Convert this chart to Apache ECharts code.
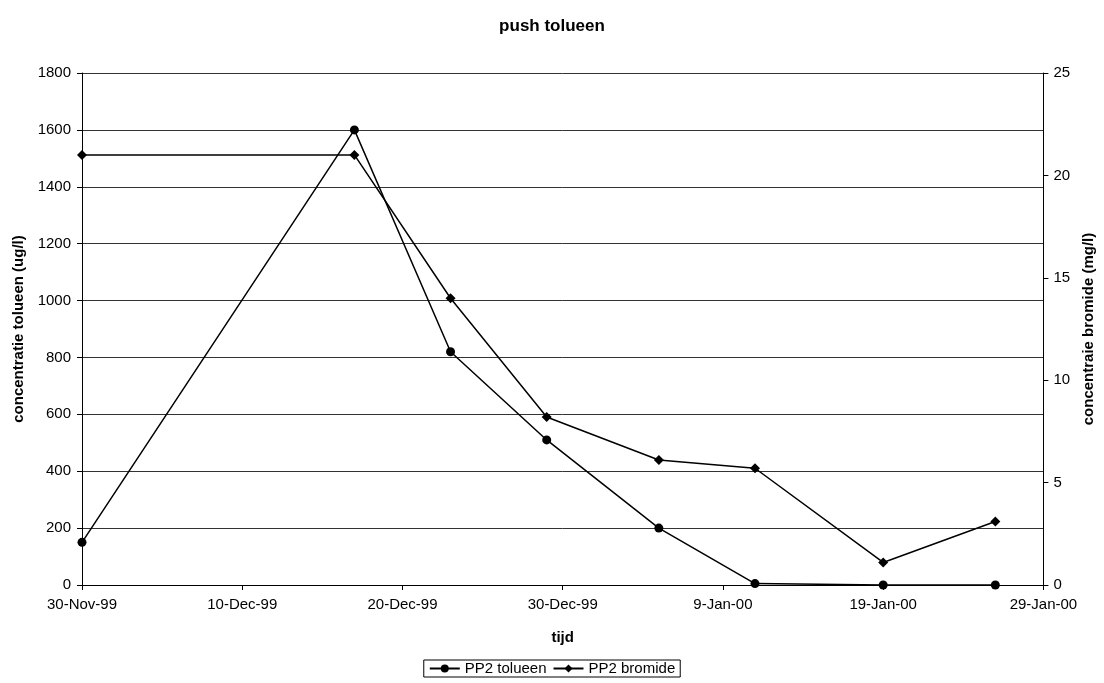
<!DOCTYPE html>
<html><head><meta charset="utf-8">
<script src="https://cdn.jsdelivr.net/npm/echarts@6/dist/echarts.min.js"></script>
<style>html,body{margin:0;padding:0;background:#fff}#c{width:1104px;height:683px}</style>
</head><body><div id="c"></div>
<script>
const dates = ['1999-11-30','1999-12-17','1999-12-23','1999-12-29','2000-01-05','2000-01-11','2000-01-19','2000-01-26'];
const toluene = [150, 1600, 820, 510, 200, 5, 0, 0];
const bromide = [21, 21, 14, 8.2, 6.1, 5.7, 1.1, 3.1];
const seriesNames = ['PP2 tolueen', 'PP2 bromide'];
const baseDate = '1999-11-30';
const months = ['Jan','Feb','Mar','Apr','May','Jun','Jul','Aug','Sep','Oct','Nov','Dec'];
const DAY = 86400000;
const base = Date.parse(baseDate + 'T00:00:00Z');
const dayOf = s => Math.round((Date.parse(s + 'T00:00:00Z') - base) / DAY);
const fmt = v => { const d = new Date(base + v * DAY); return d.getUTCDate() + '-' + months[d.getUTCMonth()] + '-' + String(d.getUTCFullYear()).slice(2); };
const font = 'Liberation Sans, Arial, sans-serif';
const chart = echarts.init(document.getElementById('c'), null, {renderer: 'canvas'});
chart.setOption({
  animation: false,
  backgroundColor: '#fff',
  textStyle: {fontFamily: font, color: '#000'},
  title: {text: 'push tolueen', left: 'center', top: 13, textStyle: {fontFamily: font, fontSize: 17, fontWeight: 'bold', color: '#000'}},
  grid: {left: 82, right: 56, top: 73, bottom: 98, containLabel: false},
  legend: {
    top: 660, left: 'center', itemGap: 6, itemWidth: 30, itemHeight: 10,
    borderColor: '#000', borderWidth: 1, borderRadius: 0, padding: [1, 5, 1, 5],
    textStyle: {fontFamily: font, fontSize: 15, color: '#000'},
    data: seriesNames
  },
  xAxis: {
    type: 'value', min: 0, max: 60, interval: 10,
    name: 'tijd', nameLocation: 'middle', nameGap: 45,
    nameTextStyle: {fontFamily: font, fontSize: 15, fontWeight: 'bold', color: '#000'},
    axisLine: {lineStyle: {color: '#000'}},
    axisTick: {show: true, inside: false, length: 5, lineStyle: {color: '#000'}},
    axisLabel: {formatter: fmt, fontSize: 15, color: '#000', margin: 12, fontFamily: font},
    splitLine: {show: false}
  },
  yAxis: [{
    type: 'value', min: 0, max: 1800, interval: 200, position: 'left',
    name: 'concentratie tolueen (ug/l)', nameLocation: 'middle', nameGap: 56, nameRotate: 90,
    nameTextStyle: {fontFamily: font, fontSize: 15, fontWeight: 'bold', color: '#000'},
    axisLine: {show: true, lineStyle: {color: '#000'}},
    axisTick: {show: true, length: 5, lineStyle: {color: '#000'}},
    axisLabel: {formatter: v => String(v), fontSize: 15, color: '#000', margin: 11, fontFamily: font},
    splitLine: {show: true, lineStyle: {color: '#333', width: 1}}
  }, {
    type: 'value', min: 0, max: 25, interval: 5, position: 'right',
    name: 'concentraie bromide (mg/l)', nameLocation: 'middle', nameGap: 36, nameRotate: 90,
    nameTextStyle: {fontFamily: font, fontSize: 15, fontWeight: 'bold', color: '#000'},
    axisLine: {show: true, lineStyle: {color: '#000'}},
    axisTick: {show: true, length: 5, lineStyle: {color: '#000'}},
    axisLabel: {fontSize: 15, color: '#000', margin: 10, fontFamily: font},
    splitLine: {show: false}
  }],
  series: [{
    name: seriesNames[0], type: 'line', yAxisIndex: 0,
    data: dates.map((d, i) => [dayOf(d), toluene[i]]),
    symbol: 'circle', symbolSize: 9, showAllSymbol: true,
    lineStyle: {color: '#000', width: 1.5}, itemStyle: {color: '#000'}
  }, {
    name: seriesNames[1], type: 'line', yAxisIndex: 1,
    data: dates.map((d, i) => [dayOf(d), bromide[i]]),
    symbol: 'diamond', symbolSize: 10, showAllSymbol: true,
    lineStyle: {color: '#000', width: 1.5}, itemStyle: {color: '#000'}
  }]
});
</script></body></html>
